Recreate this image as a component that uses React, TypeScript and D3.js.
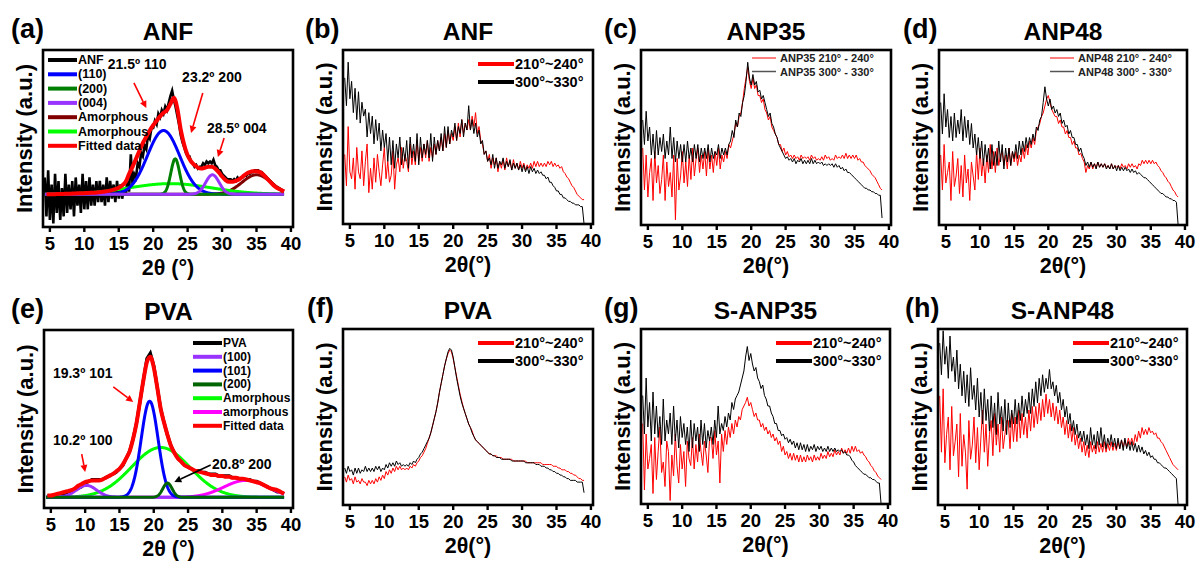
import React from "react";
import * as d3 from "d3";

const FONT = "'Liberation Sans', Arial, Helvetica, sans-serif";

// ---------- axes / grids ----------
const X_TICKS = [5, 10, 15, 20, 25, 30, 35, 40];
const X_DOMAIN = [4.0, 40.3];
const Q_START = 4.25; // 0.25° sampling for measured scans
const Q_STEP = 0.25;
const H_START = 4.5; // 0.5° sampling for smooth curves
const H_STEP = 0.5;
const ANGLES_FIT = d3.range(4.3, 39.01, 0.05);

// ---------- (a) ANF fit ----------
const ANF_A_BLACK = [
  28,6,32,4, 24,2,30,8, 26,4,22,6, 30,8,24,10, 26,6,28,12, 24,8,30,10, 26,10,28,12,
  24,12,26,14, 26,14,24,12, 28,14,26,16, 24,14,26,16, 24,16,22,18, 26,20,41,24,
  30,28,36,34, 42,40,46,44, 52,50,56,56, 60,58,64,62, 66,64,68,66, 70,74,77,72,
  68,63,58,52, 48,45,42,40, 40,37,36,34, 35,33,34,34, 36,35,37,36, 37,36,38,35,
  34,32,32,30, 29,28,27,27, 27,26,27,26, 28,27,28,28, 29,29,30,30, 31,31,32,32,
  32,31,31,30, 29,28,27,26, 25,24,23,22, 22,21,20,20,
];
const ANF_A_FIT = [
  18.5,18.5,18.5,18.6,18.6,18.7,18.8,18.8,18.9,19,19,19.1,19.2,19.3,19.4,19.6,19.8,20,
  20.4,20.8,21.4,22.2,23.5,25.5,30,34,38.5,43,47.5,51,54.5,57.5,60,62.5,64.5,66,69.5,73,
  67,55,46.5,40.5,37,35,33.5,33,33.5,34,34,33,31,28.5,26.5,25.5,25.5,26,27,28.5,30,31,
  31.5,31.5,31,29.5,27.5,25.5,23.5,22,21,20,
];
const ANF_LEGEND = ["ANF", "(110)", "(200)", "(004)", "Amorphous", "Amorphous", "Fitted data"];
const ANF_PEAK_CENTERS = [21.5, 23.2, 28.6, 35, 22.5];
const ANF_PEAK_HEIGHTS = [36, 20, 11, 11, 6];
const ANF_PEAK_FWHM = [5.5, 1.5, 2.3, 5, 14];
const ANF_BASELINE = 18.5;

// ---------- (e) PVA fit ----------
const PVA_E_BLACK = [
  7,7, 7,8, 8,8, 9,9, 10,11, 12,14, 15,16, 16,16, 16,17, 18,19, 20,22, 24,28, 32,39,
  48,60, 72,84, 87,80, 68,56, 48,41, 35,31, 28,26, 24,23, 22,21, 21,20, 20,19, 19,19,
  18,18, 18,18, 17,17, 16,16, 16,16, 15,15, 14,13, 12,11, 10,9, 9,8,
];
const PVA_E_FIT = [
  7,7,7.5,8,8.5,9,9.5,10,11,12.5,13.5,14.5,15,15.5,15.5,15.5,16,17,18,19,20.5,22,24.5,28,
  32,39,48,60,72,82,85,79,68,56,48,41,35,31,28,26,24,23,22,21,20.5,20,19.5,19,18.5,18.5,
  18,18,17.5,17.5,17,17,16.5,16.5,16,15.5,15,14.5,14,13,12,11,10.5,10,9,8,
];
const PVA_LEGEND = ["PVA", "(100)", "(101)", "(200)", "Amorphous", "amorphous", "Fitted data"];
const PVA_PEAK_CENTERS = [10.2, 19.4, 22.0, 21.0, 33.4];
const PVA_PEAK_HEIGHTS = [6.7, 54, 8, 28, 9.5];
const PVA_PEAK_FWHM = [3.5, 2.9, 1.6, 10, 7.5];
const PVA_BASELINE = 6;

// ---------- (b)-(h) two-angle scans (percent of frame height) ----------
const ANF_B_RED = [
  40,22,56,30, 26,38,20,44, 30,26,42,22, 36,46,18,32, 20,38,24,40, 30,22,34,44, 26,36,24,28,
  42,20,34,38, 30,44,32,40, 36,30,46,34, 42,34,48,36, 44,36,46,38, 48,36,44,38, 46,40,48,42,
  50,42,52,44, 54,46,52,48, 56,48,58,50, 60,52,58,54, 60,54,62,56, 64,52,56,48, 46,40,42,36,
  40,32,38,34, 38,30,36,32, 37,31,38,33, 36,31,37,32, 35,31,36,32, 35,31,34,32, 35,32,36,33,
  36,33,35,33, 35,33,36,34, 36,33,35,33, 34,32,33,30, 29,27,26,24, 22,21,19,17, 16,15,14,14,
];
const ANF_B_BLACK = [
  84,68,93,72, 82,64,78,60, 76,58,70,62, 66,50,64,52, 62,46,60,48, 58,42,54,44, 52,36,50,34,
  48,32,46,38, 50,34,44,36, 48,32,50,38, 46,36,52,34, 50,38,46,40, 48,38,52,36, 50,40,48,42,
  52,42,56,44, 56,46,54,50, 58,48,56,52, 60,50,58,54, 68,54,60,52, 58,50,54,46, 48,40,42,36,
  38,34,40,32, 38,32,36,34, 38,32,36,33, 37,31,35,32, 35,31,34,30, 34,30,33,29, 33,30,32,29,
  31,29,30,28, 28,26,27,24, 24,22,21,19, 19,17,17,15, 15,14,13,13, 12,12,11,11, 11,10,10,0,
];
const ANP35_RED = [
  44,20,40,16, 30,38,14,42, 24,34,18,26, 40,14,36,22, 30,16,40,3, 38,20,28,42, 24,36,22,40,
  26,44,28,38, 44,30,40,32, 42,28,44,32, 40,30,42,34, 44,32,40,36, 42,38,46,44, 48,52,58,56,
  62,64,70,78, 84,90,82,78, 84,78,80,74, 74,70,72,66, 64,60,62,56, 54,52,50,46, 46,42,44,40,
  42,39,40,38, 40,38,39,37, 40,38,39,38, 39,37,40,38, 39,37,38,37, 39,37,40,38, 39,37,38,37,
  40,38,39,38, 40,38,41,38, 40,38,40,38, 40,37,38,36, 36,34,33,32, 31,29,28,27, 25,23,21,20,
];
const ANP35_BLACK = [
  60,46,65,48, 56,40,52,38, 54,40,50,42, 52,38,48,40, 56,38,50,36, 48,38,46,36, 46,36,48,38,
  44,36,46,38, 46,36,44,38, 44,38,46,36, 44,38,42,40, 46,38,44,40, 44,40,46,48, 54,50,60,56,
  64,62,70,74, 82,93,84,80, 86,80,82,76, 77,72,74,70, 66,62,64,58, 56,52,50,46, 44,42,40,38,
  39,37,38,36, 38,35,37,36, 38,35,37,35, 37,35,38,35, 37,35,36,35, 36,34,35,34, 35,34,35,33,
  35,33,34,32, 33,31,32,30, 30,29,28,27, 26,25,24,23, 22,21,21,20, 20,19,19,18, 18,17,17,4,
];
const ANP48_RED = [
  40,20,46,24, 30,36,14,42, 22,28,38,18, 34,16,40,24, 32,14,36,28, 20,42,26,44, 28,38,24,40,
  30,46,32,42, 30,44,34,40, 42,34,40,32, 44,34,42,36, 42,34,40,36, 44,38,46,40, 48,44,50,46,
  54,56,58,62, 64,68,72,74, 70,66,64,62, 62,58,60,56, 56,52,54,50, 50,46,48,44, 44,40,41,38,
  36,30,34,32, 36,32,35,33, 36,33,35,33, 35,33,34,32, 35,32,34,33, 34,32,35,33, 34,32,35,33,
  35,33,34,32, 35,34,37,35, 37,35,37,35, 37,35,36,34, 33,31,30,28, 27,25,24,22, 20,19,17,16,
];
const ANP48_BLACK = [
  70,52,75,56, 66,50,62,48, 64,50,60,52, 66,48,62,50, 60,46,58,44, 52,40,50,38, 48,34,46,36,
  44,32,46,34, 42,34,48,36, 46,32,44,36, 44,34,42,38, 46,38,48,40, 48,42,50,44, 50,46,52,48,
  56,54,60,62, 70,79,72,68, 72,66,68,64, 66,62,64,58, 60,56,57,52, 54,50,50,46, 46,42,44,40,
  38,34,36,33, 36,33,35,32, 36,33,35,33, 35,32,34,32, 35,32,34,31, 34,31,33,31, 33,31,32,30,
  32,30,31,29, 30,29,28,27, 27,26,25,24, 23,22,21,20, 19,18,18,17, 16,16,15,15, 14,14,13,0,
];
const PVA_F_RED = [
  16,13,17,14, 15,12,16,13, 14,12,15,13, 13,11,14,12, 14,12,15,13, 16,14,17,15, 19,17,20,18,
  21,19,22,20, 22,20,21,20, 21,20,22,21, 23,22,24,25, 27,28,30,32, 35,38,41,45, 49,53,58,64,
  69,74,79,83, 86,88,87,83, 78,73,68,63, 59,55,52,49, 46,44,42,39, 37,36,35,34, 33,32,31,30,
  29,29,28,28, 28,27,27,27, 26,26,26,26, 26,26,25,25, 25,25,25,25, 25,25,24,24, 24,24,24,24,
  24,24,24,23, 23,23,23,23, 23,22,22,22, 21,21,20,20, 20,19,19,18, 18,17,17,16, 15,15,14,14,
];
const PVA_F_BLACK = [
  21,18,22,19, 20,17,21,18, 21,18,20,19, 22,19,21,19, 21,19,22,20, 22,19,21,20, 23,21,24,22,
  24,22,25,23, 24,22,23,22, 23,22,24,23, 25,24,26,27, 29,30,32,34, 36,38,41,45, 49,53,58,64,
  69,74,79,83, 87,89,88,84, 78,72,67,62, 58,55,52,49, 46,44,41,39, 37,36,35,34, 33,32,31,30,
  29,29,28,28, 27,27,27,26, 26,26,26,26, 26,25,25,25, 25,25,25,25, 25,24,24,24, 24,24,24,23,
  23,23,22,22, 22,21,21,20, 20,19,19,18, 18,17,17,16, 16,15,15,14, 14,14,14,13, 13,13,13,7,
];
const SANP35_RED = [
  46,8,40,20, 26,34,6,38, 14,30,44,18, 24,10,36,30, 2,28,16,40, 22,12,34,20, 30,10,36,26,
  22,38,20,34, 24,40,30,22, 36,28,18,38, 38,26,42,28, 36,12,40,30, 42,34,44,38, 46,40,48,44,
  50,48,54,56, 58,61,56,58, 54,50,52,48, 48,44,46,42, 44,40,42,38, 40,36,38,34, 36,30,33,28,
  30,26,29,25, 29,25,28,24, 28,24,27,24, 28,25,27,24, 28,25,27,25, 29,26,28,26, 30,27,29,27,
  31,28,30,28, 32,29,31,29, 32,29,33,30, 33,30,31,29, 30,28,27,25, 24,22,21,19, 18,16,15,14,
];
const SANP35_BLACK = [
  62,40,72,44, 58,36,64,40, 56,38,50,34, 60,36,48,40, 52,34,56,36, 48,32,50,38, 46,34,44,30,
  48,32,46,36, 44,30,48,34, 46,32,42,36, 44,34,48,38, 56,40,46,42, 50,44,52,48, 58,54,60,62,
  64,68,72,76, 84,90,82,86, 80,76,78,72, 70,66,68,62, 60,56,56,52, 50,46,46,42, 42,39,40,37,
  38,35,37,34, 36,32,35,31, 35,31,34,30, 34,30,33,31, 34,30,33,31, 33,30,32,30, 33,30,32,30,
  32,30,31,30, 31,29,30,28, 28,27,25,24, 22,21,20,19, 18,17,17,16, 15,15,14,14, 13,12,12,0,
];
const SANP48_RED = [
  62,30,66,24, 40,50,20,56, 28,36,46,16, 52,22,40,30, 9,48,26,34, 50,24,44,20, 38,54,30,46,
  22,40,48,28, 52,34,46,30, 50,32,40,48, 48,32,52,36, 50,36,54,38, 52,40,50,38, 54,42,56,44,
  56,46,58,48, 60,50,63,52, 60,50,58,48, 56,46,54,44, 50,40,48,38, 46,36,44,34, 40,32,38,30,
  36,28,34,27, 36,30,34,29, 36,30,35,30, 36,30,35,31, 36,31,35,31, 36,32,37,33, 37,33,38,34,
  38,34,40,36, 42,38,44,40, 43,40,44,41, 42,40,41,38, 38,36,35,33, 31,29,27,25, 23,22,21,20,
];
const SANP48_BLACK = [
  92,74,99,80, 90,72,96,76, 84,70,88,66, 80,62,76,58, 74,56,78,60, 68,54,72,50, 64,46,66,48,
  60,42,62,44, 58,40,64,46, 56,42,60,40, 58,44,54,46, 60,46,58,48, 62,50,60,52, 64,52,66,56,
  70,58,72,62, 74,64,72,66, 77,66,70,62, 68,58,64,54, 60,50,56,46, 52,42,48,40, 46,38,42,36,
  42,34,40,32, 44,34,40,32, 42,34,44,33, 40,32,38,34, 40,33,38,32, 38,32,37,31, 38,32,36,31,
  36,31,35,30, 34,30,33,29, 31,28,30,27, 28,26,26,24, 24,23,22,21, 21,20,19,18, 17,16,15,0,
];

const LEG_PLAIN = ["210°~240°", "300°~330°"];
const LEG_ANP35 = ["ANP35 210° - 240°", "ANP35 300° - 330°"];
const LEG_ANP48 = ["ANP48 210° - 240°", "ANP48 300° - 330°"];

// ---------- styles ----------
const ANF_COLORS = ["#000000", "#0000ff", "#008000", "#9933ff", "#800000", "#00ff00", "#ff0000"];
const PVA_COLORS = ["#000000", "#9933ff", "#0000ff", "#006400", "#00ff00", "#ff00ff", "#ff0000"];

type Frame = { x: number; y: number; w: number; h: number };
type PanelCfg = {
  id: string;
  frame: Frame;
  tag: string;
  tagX: number;
  title: string;
  xLabel: string;
  kind: "fitA" | "fitE" | "thick" | "thin";
  red?: number[];
  black?: number[];
  legend?: string[];
};

const PANELS: PanelCfg[] = [
  { id: "a", frame: { x: 43, y: 50, w: 250, h: 177 }, tag: "(a)", tagX: 11, title: "ANF", xLabel: "2θ (°)", kind: "fitA" },
  { id: "b", frame: { x: 343, y: 50, w: 250, h: 174 }, tag: "(b)", tagX: 305, title: "ANF", xLabel: "2θ(°)", kind: "thick", red: ANF_B_RED, black: ANF_B_BLACK, legend: LEG_PLAIN },
  { id: "c", frame: { x: 641, y: 50, w: 250, h: 175 }, tag: "(c)", tagX: 604, title: "ANP35", xLabel: "2θ(°)", kind: "thin", red: ANP35_RED, black: ANP35_BLACK, legend: LEG_ANP35 },
  { id: "d", frame: { x: 939, y: 50, w: 248, h: 175 }, tag: "(d)", tagX: 903, title: "ANP48", xLabel: "2θ(°)", kind: "thin", red: ANP48_RED, black: ANP48_BLACK, legend: LEG_ANP48 },
  { id: "e", frame: { x: 44, y: 330, w: 249, h: 178 }, tag: "(e)", tagX: 11, title: "PVA", xLabel: "2θ (°)", kind: "fitE" },
  { id: "f", frame: { x: 343, y: 329, w: 250, h: 176 }, tag: "(f)", tagX: 307, title: "PVA", xLabel: "2θ(°)", kind: "thick", red: PVA_F_RED, black: PVA_F_BLACK, legend: LEG_PLAIN },
  { id: "g", frame: { x: 641, y: 329, w: 249, h: 175 }, tag: "(g)", tagX: 604, title: "S-ANP35", xLabel: "2θ(°)", kind: "thick", red: SANP35_RED, black: SANP35_BLACK, legend: LEG_PLAIN },
  { id: "h", frame: { x: 938, y: 329, w: 249, h: 176 }, tag: "(h)", tagX: 905, title: "S-ANP48", xLabel: "2θ(°)", kind: "thick", red: SANP48_RED, black: SANP48_BLACK, legend: LEG_PLAIN },
];

const gauss = (t: number, c: number, h: number, w: number) =>
  h * Math.exp(-4 * Math.LN2 * ((t - c) / w) ** 2);

function Arrow({ x1, y1, x2, y2, color }: { x1: number; y1: number; x2: number; y2: number; color: string }) {
  const a = Math.atan2(y2 - y1, x2 - x1);
  const L = 7;
  const W = 3.5;
  const bx = x2 - L * Math.cos(a);
  const by = y2 - L * Math.sin(a);
  const pts = [
    [x2, y2],
    [bx + W * Math.sin(a), by - W * Math.cos(a)],
    [bx - W * Math.sin(a), by + W * Math.cos(a)],
  ];
  return (
    <g>
      <line x1={x1} y1={y1} x2={bx} y2={by} stroke={color} strokeWidth={1.6} />
      <polygon points={pts.map((p) => p.join(",")).join(" ")} fill={color} />
    </g>
  );
}

function Panel({ cfg }: { cfg: PanelCfg }) {
  const f = cfg.frame;
  const x = d3.scaleLinear().domain(X_DOMAIN).range([f.x, f.x + f.w]);
  const y = d3.scaleLinear().domain([0, 100]).range([f.y + f.h, f.y]);
  const clipId = `clip-${cfg.id}`;
  const scanLine = (start: number, step: number) =>
    d3
      .line<number>()
      .x((_, i) => x(start + step * i))
      .y((v) => y(v));
  const qLine = scanLine(Q_START, Q_STEP);
  const hLine = scanLine(H_START, H_STEP);
  const smoothH = scanLine(H_START, H_STEP).curve(d3.curveMonotoneX);
  const fitLine = (c: number, h: number, w: number, base: number) =>
    d3
      .line<number>()
      .x((t) => x(t))
      .y((t) => y(base + gauss(t, c, h, w)))(ANGLES_FIT) || "";

  const content: React.ReactNode[] = [];
  const overlay: React.ReactNode[] = [];

  if (cfg.kind === "thick" || cfg.kind === "thin") {
    content.push(<path key="r" d={qLine(cfg.red!) || ""} fill="none" stroke="#ff0000" strokeWidth={1} />);
    content.push(<path key="k" d={qLine(cfg.black!) || ""} fill="none" stroke="#000000" strokeWidth={1} />);
    if (cfg.kind === "thick") {
      const lx1 = f.x + 135;
      const lx2 = f.x + 171;
      [0, 1].forEach((i) => {
        const ly = f.y + 14 + i * 18;
        overlay.push(
          <g key={`lg${i}`}>
            <line x1={lx1} x2={lx2} y1={ly} y2={ly} stroke={i === 0 ? "#ff0000" : "#000000"} strokeWidth={4} />
            <text x={lx2 + 1} y={ly} dominantBaseline="central" fontSize={14.5} fontWeight="bold" fontFamily={FONT}>
              {cfg.legend![i]}
            </text>
          </g>
        );
      });
    } else {
      const lx1 = f.x + 111;
      const lx2 = f.x + 135;
      [0, 1].forEach((i) => {
        const ly = f.y + 8 + i * 13.5;
        overlay.push(
          <g key={`lg${i}`}>
            <line x1={lx1} x2={lx2} y1={ly} y2={ly} stroke={i === 0 ? "#ff0000" : "#555555"} strokeWidth={i === 0 ? 1 : 1.5} />
            <text x={lx2 + 4} y={ly} dominantBaseline="central" fontSize={11} fontWeight="bold" fill="#222" fontFamily={FONT}>
              {cfg.legend![i]}
            </text>
          </g>
        );
      });
    }
  } else if (cfg.kind === "fitA") {
    content.push(<path key="k" d={qLine(ANF_A_BLACK) || ""} fill="none" stroke="#000" strokeWidth={2.6} />);
    const order = [3, 4, 0, 1, 2];
    order.forEach((k) => {
      content.push(
        <path
          key={`p${k}`}
          d={fitLine(ANF_PEAK_CENTERS[k], ANF_PEAK_HEIGHTS[k], ANF_PEAK_FWHM[k], ANF_BASELINE)}
          fill="none"
          stroke={ANF_COLORS[k + 1]}
          strokeWidth={3}
        />
      );
    });
    content.push(<path key="fit" d={smoothH(ANF_A_FIT) || ""} fill="none" stroke="#ff0000" strokeWidth={4} />);
    ANF_LEGEND.forEach((name, i) => {
      const ly = f.y + 10 + i * 14.3;
      overlay.push(
        <g key={`lg${i}`}>
          <line x1={f.x + 5} x2={f.x + 34} y1={ly} y2={ly} stroke={ANF_COLORS[i]} strokeWidth={4} />
          <text x={f.x + 35} y={ly} dominantBaseline="central" fontSize={12.5} fontWeight="bold" fontFamily={FONT}>
            {name}
          </text>
        </g>
      );
    });
    const notes = [
      { t: "21.5º 110", tx: 13.4, ty: 92, ax1: 17.2, ay1: 81.4, ax2: 19.0, ay2: 67.2 },
      { t: "23.2º 200", tx: 24.2, ty: 84.7, ax1: 27.2, ay1: 75.7, ax2: 25.5, ay2: 53.1 },
      { t: "28.5º 004", tx: 27.8, ty: 55.9, ax1: 30.3, ay1: 50.3, ax2: 29.4, ay2: 39.5 },
    ];
    notes.forEach((n, i) => {
      overlay.push(
        <g key={`n${i}`}>
          <text x={x(n.tx)} y={y(n.ty)} dominantBaseline="central" fontSize={14} fontWeight="bold" fontFamily={FONT}>
            {n.t}
          </text>
          <Arrow x1={x(n.ax1)} y1={y(n.ay1)} x2={x(n.ax2)} y2={y(n.ay2)} color="#ff0000" />
        </g>
      );
    });
  } else if (cfg.kind === "fitE") {
    content.push(<path key="k" d={hLine(PVA_E_BLACK) || ""} fill="none" stroke="#000" strokeWidth={3.2} />);
    const order = [3, 4, 0, 1, 2];
    order.forEach((k) => {
      content.push(
        <path
          key={`p${k}`}
          d={fitLine(PVA_PEAK_CENTERS[k], PVA_PEAK_HEIGHTS[k], PVA_PEAK_FWHM[k], PVA_BASELINE)}
          fill="none"
          stroke={PVA_COLORS[k + 1]}
          strokeWidth={3}
        />
      );
    });
    content.push(<path key="fit" d={smoothH(PVA_E_FIT) || ""} fill="none" stroke="#ff0000" strokeWidth={4} />);
    PVA_LEGEND.forEach((name, i) => {
      const ly = f.y + 13 + i * 13.8;
      overlay.push(
        <g key={`lg${i}`}>
          <line x1={f.x + 149} x2={f.x + 178} y1={ly} y2={ly} stroke={PVA_COLORS[i]} strokeWidth={4} />
          <text x={f.x + 179} y={ly} dominantBaseline="central" fontSize={12} fontWeight="bold" fontFamily={FONT}>
            {name}
          </text>
        </g>
      );
    });
    const notes = [
      { t: "19.3º 101", tx: 5.3, ty: 75.8, ax1: 14.1, ay1: 68, ax2: 17.0, ay2: 59.6, c: "#ff0000" },
      { t: "10.2º 100", tx: 5.3, ty: 38.2, ax1: 9.5, ay1: 30.3, ax2: 10.0, ay2: 20.2, c: "#ff0000" },
      { t: "20.8º 200", tx: 28.5, ty: 24.7, ax1: 28.3, ay1: 24.2, ax2: 23.0, ay2: 14.6, c: "#000000" },
    ];
    notes.forEach((n, i) => {
      overlay.push(
        <g key={`n${i}`}>
          <text x={x(n.tx)} y={y(n.ty)} dominantBaseline="central" fontSize={14} fontWeight="bold" fontFamily={FONT}>
            {n.t}
          </text>
          <Arrow x1={x(n.ax1)} y1={y(n.ay1)} x2={x(n.ax2)} y2={y(n.ay2)} color={n.c} />
        </g>
      );
    });
  }

  const bottom = f.y + f.h;
  return (
    <g>
      <defs>
        <clipPath id={clipId}>
          <rect x={f.x} y={f.y} width={f.w} height={f.h} />
        </clipPath>
      </defs>
      <g clipPath={`url(#${clipId})`}>{content}</g>
      {overlay}
      <rect x={f.x} y={f.y} width={f.w} height={f.h} fill="none" stroke="#000" strokeWidth={2.6} />
      {X_TICKS.map((t) => (
        <g key={t}>
          <line x1={x(t)} x2={x(t)} y1={bottom} y2={bottom + 5} stroke="#000" strokeWidth={2.4} />
          <text x={x(t)} y={bottom + 23} textAnchor="middle" fontSize={18.5} fontWeight="bold" fontFamily={FONT}>
            {t}
          </text>
        </g>
      ))}
      <text x={f.x + f.w / 2} y={f.y - 10} textAnchor="middle" fontSize={24.5} fontWeight="bold" fontFamily={FONT}>
        {cfg.title}
      </text>
      <text x={cfg.tagX} y={f.y - 12} fontSize={27} fontWeight="bold" fontFamily={FONT}>
        {cfg.tag}
      </text>
      <text x={f.x + f.w / 2} y={bottom + 48} textAnchor="middle" fontSize={21.5} fontWeight="bold" fontFamily={FONT}>
        {cfg.xLabel}
      </text>
      <text
        transform={`translate(${f.x - 19},${f.y + f.h / 2}) rotate(-90)`}
        textAnchor="middle"
        dominantBaseline="central"
        fontSize={22}
        fontWeight="bold"
        fontFamily={FONT}
      >
        Intensity (a.u.)
      </text>
    </g>
  );
}

export default function App() {
  return (
    <svg
      width={1198}
      height={565}
      viewBox="0 0 1198 565"
      style={{ position: "absolute", left: 0, top: 0, background: "#fff" }}
    >
      <rect x={0} y={0} width={1198} height={565} fill="#fff" />
      {PANELS.map((p) => (
        <Panel key={p.id} cfg={p} />
      ))}
    </svg>
  );
}
